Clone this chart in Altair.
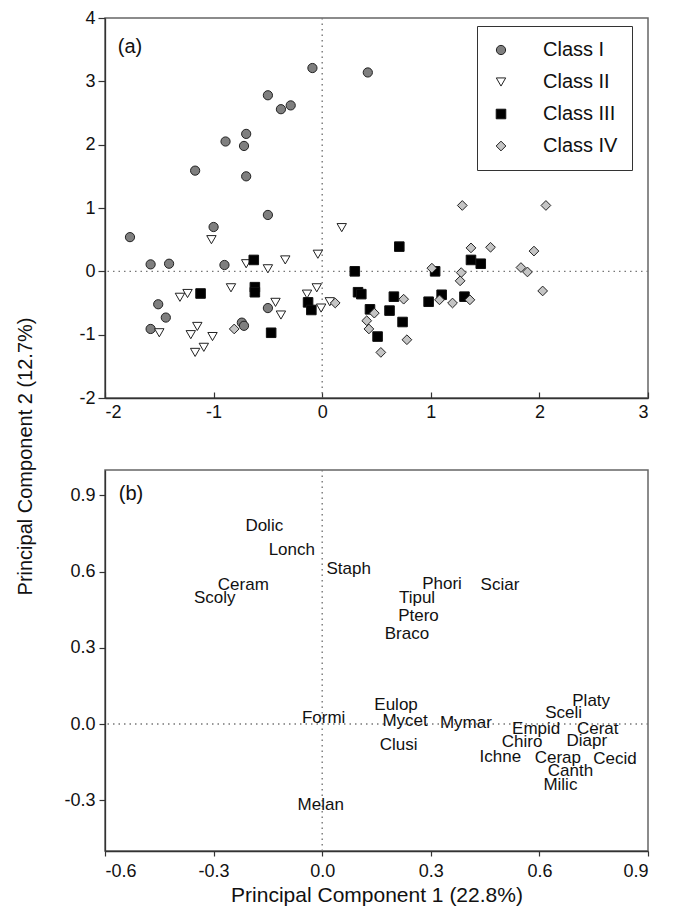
import altair as alt
import pandas as pd

FONT = "Liberation Sans"

# ---------------- Panel (a): sample scores ----------------
classes = ["Class I", "Class II", "Class III", "Class IV"]

c1_x = [-0.09, 0.42, -0.50, -0.38, -0.29, -0.89, -0.70, -0.72, -1.17, -0.70, -0.50,
        -1.77, -1.00, -1.58, -1.41, -0.90, -1.51, -1.44, -1.58, -0.74, -0.72, -0.50]
c1_y = [3.21, 3.14, 2.78, 2.56, 2.62, 2.05, 2.17, 1.98, 1.59, 1.50, 0.89,
        0.54, 0.70, 0.11, 0.12, 0.10, -0.52, -0.73, -0.91, -0.81, -0.86, -0.58]
c2_x = [-1.02, -0.70, -0.50, -0.34, -0.04, 0.18, -0.84, -1.31, -1.24, -1.50, -1.21,
        -1.15, -1.01, -1.17, -1.09, -0.43, -0.38, -0.14, -0.05, -0.01, 0.07]
c2_y = [0.50, 0.12, 0.04, 0.18, 0.27, 0.69, -0.26, -0.41, -0.35, -0.97, -1.00,
        -0.87, -1.03, -1.28, -1.20, -0.49, -0.69, -0.36, -0.26, -0.58, -0.48]
c3_x = [-0.63, -1.12, -0.62, -0.62, -0.47, -0.13, -0.10, 0.30, 0.33, 0.36, 0.44,
        0.51, 0.71, 0.62, 0.66, 0.74, 0.98, 1.04, 1.10, 1.31, 1.37, 1.46]
c3_y = [0.18, -0.35, -0.25, -0.33, -0.97, -0.49, -0.61, 0.00, -0.33, -0.36, -0.60,
        -1.03, 0.39, -0.62, -0.40, -0.80, -0.48, 0.00, -0.37, -0.40, 0.18, 0.12]
c4_x = [-0.81, 0.12, 0.75, 0.48, 0.41, 0.43, 0.54, 0.78, 1.01, 1.08, 1.20,
        1.29, 1.28, 1.27, 1.36, 1.37, 1.55, 2.06, 1.95, 1.83, 1.89, 2.03]
c4_y = [-0.91, -0.50, -0.44, -0.66, -0.78, -0.91, -1.28, -1.08, 0.05, -0.45, -0.50,
        1.04, -0.02, -0.15, -0.45, 0.37, 0.38, 1.04, 0.32, 0.06, -0.01, -0.31]

a_x_ticks = [-2, -1, 0, 1, 2, 3]
a_y_ticks = [-2, -1, 0, 1, 2, 3, 4]

# ---------------- Panel (b): taxa loadings ----------------
taxa = ["Dolic", "Lonch", "Staph", "Ceram", "Scoly", "Phori", "Sciar", "Tipul", "Ptero",
        "Braco", "Eulop", "Formi", "Mycet", "Mymar", "Clusi", "Platy", "Sceli", "Empid",
        "Cerat", "Chiro", "Diapr", "Ichne", "Cerap", "Cecid", "Canth", "Milic", "Melan"]
pc1 = [-0.160, -0.084, 0.073, -0.218, -0.297, 0.331, 0.491, 0.262, 0.266,
       0.234, 0.204, 0.004, 0.229, 0.397, 0.211, 0.743, 0.667, 0.591,
       0.761, 0.552, 0.731, 0.492, 0.651, 0.809, 0.686, 0.658, -0.004]
pc2 = [0.780, 0.686, 0.609, 0.546, 0.497, 0.552, 0.546, 0.496, 0.425,
       0.356, 0.074, 0.025, 0.011, 0.004, -0.081, 0.089, 0.043, -0.018,
       -0.018, -0.071, -0.068, -0.130, -0.134, -0.137, -0.185, -0.241, -0.318]

b_x_ticks = [-0.6, -0.3, 0.0, 0.3, 0.6, 0.9]
b_y_ticks = [-0.3, 0.0, 0.3, 0.6, 0.9]

# ---------------- build tables ----------------
rows = []
for cls, xs, ys in zip(classes, [c1_x, c2_x, c3_x, c4_x], [c1_y, c2_y, c3_y, c4_y]):
    for x, y in zip(xs, ys):
        rows.append({"pc1": x, "pc2": y, "cls": cls})
scores = pd.DataFrame(rows)
loadings = pd.DataFrame({"taxon": taxa, "pc1": pc1, "pc2": pc2})
zero = pd.DataFrame({"v": [0]})

W = 543
H_A = 380
H_B = 381
AXIS_COLOR = "#333333"
DOT = "#777777"
HYPHEN = "replace(datum.label, '\u2212', '-')"

xa_scale = alt.Scale(domain=[-2, 3], nice=False, zero=False)
ya_scale = alt.Scale(domain=[-2, 4], nice=False, zero=False)

vrule_a = alt.Chart(zero).mark_rule(color=DOT, strokeDash=[1.5, 4], strokeWidth=1.4).encode(
    x=alt.X("v:Q", scale=xa_scale,
            axis=alt.Axis(orient="top", offset=-H_A, values=a_x_ticks, labels=False,
                          domain=False, ticks=True, tickSize=6, tickColor=AXIS_COLOR,
                          tickWidth=1.2, grid=False, title=None))
)
hrule_a = alt.Chart(zero).mark_rule(color=DOT, strokeDash=[1.5, 4], strokeWidth=1.4).encode(
    y=alt.Y("v:Q", scale=ya_scale)
)


def class_legend():
    return alt.Legend(title=None, orient="none", legendX=372, legendY=8,
                      padding=14, strokeColor="#333333", fillColor="white",
                      labelFont=FONT, labelFontSize=20, labelColor="#111111",
                      labelOffset=32, rowPadding=12, symbolStrokeWidth=1)


points = alt.Chart(scores).mark_point(filled=True, opacity=1, strokeWidth=1).encode(
    x=alt.X("pc1:Q", scale=xa_scale,
            axis=alt.Axis(orient="bottom", values=a_x_ticks, ticks=False, tickSize=0,
                          labelPadding=5, title=None, grid=False, format="d",
                          labelExpr=HYPHEN)),
    y=alt.Y("pc2:Q", scale=ya_scale,
            axis=alt.Axis(values=a_y_ticks, tickSize=7, labelPadding=3, title=None,
                          grid=False, format="d", labelExpr=HYPHEN)),
    shape=alt.Shape("cls:N", scale=alt.Scale(domain=classes,
                    range=["circle", "triangle-down", "square", "diamond"]),
                    legend=class_legend()),
    fill=alt.Fill("cls:N", scale=alt.Scale(domain=classes,
                  range=["#7f7f7f", "#ffffff", "#000000", "#c4c4c4"]),
                  legend=class_legend()),
    stroke=alt.Stroke("cls:N", scale=alt.Scale(domain=classes,
                      range=["#222222", "#222222", "#111111", "#222222"]),
                      legend=class_legend()),
    size=alt.Size("cls:N", scale=alt.Scale(domain=classes, range=[85, 95, 70, 115]),
                  legend=class_legend()),
)
label_a = alt.Chart(zero).mark_text(text="(a)", font=FONT, fontSize=20, color="#111111",
                                    align="center", baseline="middle").encode(
    x=alt.value(25), y=alt.value(29))

panel_a = alt.layer(vrule_a, hrule_a, points, label_a).resolve_axis(x="independent").properties(
    width=W, height=H_A)

xb_scale = alt.Scale(domain=[-0.6, 0.9], nice=False, zero=False)
yb_scale = alt.Scale(domain=[-0.5, 1.0], nice=False, zero=False)

vrule_b = alt.Chart(zero).mark_rule(color=DOT, strokeDash=[1.5, 4], strokeWidth=1.4).encode(
    x=alt.X("v:Q", scale=xb_scale)
)
hrule_b = alt.Chart(zero).mark_rule(color=DOT, strokeDash=[1.5, 4], strokeWidth=1.4).encode(
    y=alt.Y("v:Q", scale=yb_scale)
)
texts = alt.Chart(loadings).mark_text(font=FONT, fontSize=17, color="#111111",
                                      align="center", baseline="middle").encode(
    x=alt.X("pc1:Q", scale=xb_scale,
            axis=alt.Axis(values=b_x_ticks, format=".1f", tickSize=5, labelPadding=6,
                          grid=False, title="Principal Component 1 (22.8%)",
                          titleFontSize=21, titlePadding=4, labelExpr=HYPHEN)),
    y=alt.Y("pc2:Q", scale=yb_scale,
            axis=alt.Axis(values=b_y_ticks, format=".1f", tickSize=6, labelPadding=4,
                          grid=False, title="Principal Component 2 (12.7%)",
                          titleFontSize=20, titleX=-80, titleY=-14,
                          titleBaseline="middle", titleAlign="center", labelExpr=HYPHEN)),
    text="taxon:N",
)
label_b = alt.Chart(zero).mark_text(text="(b)", font=FONT, fontSize=20, color="#111111",
                                    align="center", baseline="middle").encode(
    x=alt.value(26), y=alt.value(24))

panel_b = alt.layer(vrule_b, hrule_b, texts, label_b).properties(width=W, height=H_B)

chart = alt.vconcat(panel_a, panel_b, spacing=72, bounds="flush").resolve_scale(
    shape="independent", fill="independent", stroke="independent", size="independent"
).resolve_legend(
    shape="independent", fill="independent", stroke="independent", size="independent"
).properties(
    padding={"left": 6, "top": 0, "right": 0, "bottom": 0}
).configure_view(
    stroke="#666666", strokeWidth=1.5
).configure_axis(
    labelFont=FONT, titleFont=FONT, labelFontSize=18, labelColor="#111111",
    titleColor="#111111", titleFontWeight="normal", domainColor=AXIS_COLOR,
    domainWidth=1.3, tickColor=AXIS_COLOR, tickWidth=1.2
)

chart.save("out.html", embed_options={"renderer": "svg", "actions": False})
